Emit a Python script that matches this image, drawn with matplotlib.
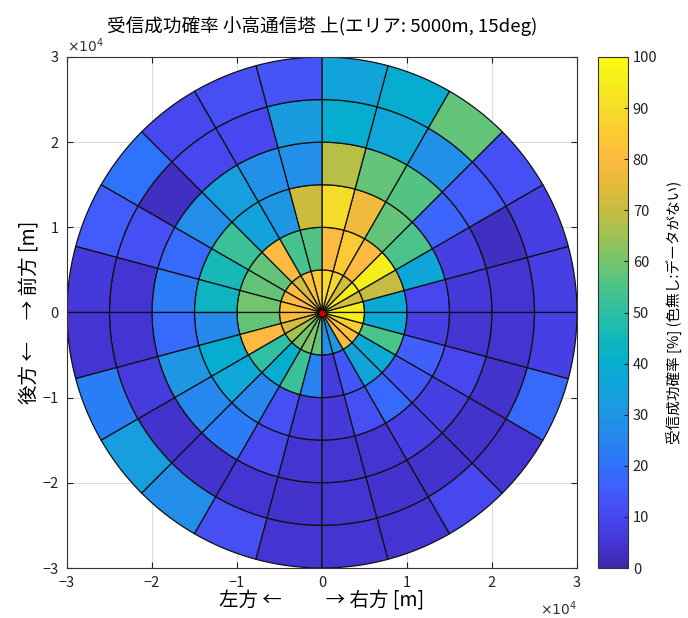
import numpy as np
import matplotlib
matplotlib.use("Agg")
import matplotlib.pyplot as plt
from matplotlib.colors import LinearSegmentedColormap, Normalize
from matplotlib.collections import PolyCollection

plt.rcParams['font.family'] = ['Noto Sans CJK JP', 'DejaVu Sans']
plt.rcParams['axes.unicode_minus'] = True

# ---- data -------------------------------------------------------------
# Reception success rate [%] per cell; each ring lists 24 sectors of 15 deg,
# counter-clockwise starting from the +x axis (right).
sector_step_deg = 15
ring_edges_m = [0, 5000, 10000, 15000, 20000, 25000, 30000]

rate_0_5km = [95, 72, 95, 72, 88, 90, 85, 82, 72, 80, 80, 82,
              80, 72, 66, 60, 62, 58, 28, 30, 80, 82, 86, 96]
rate_5_10km = [38, 70, 95, 80, 85, 80, 56, 54, 80, 58, 58, 60,
               58, 80, 50, 40, 52, 24, 7, 14, 35, 38, 55, 38]
rate_10_15km = [10, 36, 55, 58, 77, 90, 71, 30, 35, 52, 46, 43,
                26, 40, 37, 25, 12, 7, 6, 12, 18, 14, 16, 8]
rate_15_20km = [6, 8, 17, 56, 58, 68, 28, 28, 33, 27, 18, 22,
                18, 30, 25, 22, 10, 5, 5, 5, 8, 8, 10, 5]
rate_20_25km = [5, 3, 15, 28, 37, 40, 32, 10, 10, 3, 12, 5,
                5, 7, 4, 4, 5, 4, 5, 4, 4, 4, 4, 5]
rate_25_30km = [8, 8, 12, 58, 40, 35, 13, 12, 10, 20, 15, 6,
                5, 23, 33, 27, 12, 5, 5, 5, 10, 5, 18, 8]

rings = [rate_0_5km, rate_5_10km, rate_10_15km,
         rate_15_20km, rate_20_25km, rate_25_30km]

title_text = "受信成功確率 小高通信塔 上(エリア: 5000m, 15deg)"
xlabel_text = "左方 ←          → 右方 [m]"
ylabel_text = "後方 ←     → 前方 [m]"
cbar_label = "受信成功確率 [%] (色無し:データがない)"
tick_values = [-3, -2, -1, 0, 1, 2, 3]   # ×10^4 m
cbar_ticks = list(range(0, 101, 10))

# ---- parula-like colormap ---------------------------------------------
parula_pts = [
    (0.00, (0.242, 0.150, 0.660)),
    (0.05, (0.268, 0.212, 0.838)),
    (0.10, (0.278, 0.282, 0.940)),
    (0.15, (0.260, 0.362, 0.990)),
    (0.20, (0.185, 0.450, 0.990)),
    (0.25, (0.150, 0.530, 0.935)),
    (0.30, (0.118, 0.590, 0.890)),
    (0.35, (0.070, 0.640, 0.860)),
    (0.40, (0.025, 0.680, 0.810)),
    (0.45, (0.070, 0.720, 0.730)),
    (0.50, (0.180, 0.748, 0.640)),
    (0.55, (0.290, 0.765, 0.540)),
    (0.60, (0.450, 0.770, 0.430)),
    (0.65, (0.620, 0.760, 0.330)),
    (0.70, (0.770, 0.740, 0.250)),
    (0.75, (0.900, 0.730, 0.230)),
    (0.80, (0.990, 0.730, 0.250)),
    (0.85, (0.990, 0.790, 0.200)),
    (0.90, (0.965, 0.860, 0.160)),
    (0.95, (0.962, 0.930, 0.110)),
    (1.00, (0.977, 0.984, 0.060)),
]
parula = LinearSegmentedColormap.from_list("parula_like", parula_pts, N=256)

# ---- cell polygons ----------------------------------------------------
n_sectors = len(rate_0_5km)
verts, values = [], []
for i, ring in enumerate(rings):
    r0, r1 = ring_edges_m[i], ring_edges_m[i + 1]
    for k in range(n_sectors):
        a = np.deg2rad(np.linspace(k * sector_step_deg,
                                   (k + 1) * sector_step_deg, 16))
        outer = np.column_stack([r1 * np.cos(a), r1 * np.sin(a)])
        if r0 == 0:
            inner = np.array([[0.0, 0.0]])
        else:
            inner = np.column_stack([r0 * np.cos(a[::-1]), r0 * np.sin(a[::-1])])
        verts.append(np.vstack([outer, inner]))
        values.append(ring[k])

# ---- figure -----------------------------------------------------------
fig = plt.figure(figsize=(6.88, 6.18), dpi=100)
ax = fig.add_axes([67 / 688, 1 - 568 / 618, 510 / 688, 511 / 618])
ax.set_axisbelow(True)
ax.grid(True, color="#dcdcdc", linewidth=0.8)

coll = PolyCollection(verts, array=np.array(values, dtype=float),
                      cmap=parula, norm=Normalize(0, 100),
                      edgecolors="#111111", linewidths=0.9, zorder=2)
ax.add_collection(coll)
ax.plot([0], [0], "o", color="#cc0000", markersize=5, zorder=3,
        markeredgecolor="#330000", markeredgewidth=0.6)

lim = 3e4
ax.set_xlim(-lim, lim)
ax.set_ylim(-lim, lim)
ticks_m = [v * 1e4 for v in tick_values]
labels = [("\u2212" + str(abs(v))) if v < 0 else str(v) for v in tick_values]
ax.set_xticks(ticks_m)
ax.set_xticklabels(labels)
ax.set_yticks(ticks_m)
ax.set_yticklabels(labels)
ax.tick_params(direction="in", top=True, right=True, length=4,
               labelsize=10.5, colors="#222222", pad=6)
for s in ax.spines.values():
    s.set_color("#333333")
    s.set_linewidth(0.8)

ax.text(0.0, 1.004, r"$\times10^{4}$", transform=ax.transAxes,
        ha="left", va="bottom", fontsize=10, color="#333333")
ax.text(1.0, -0.062, r"$\times10^{4}$", transform=ax.transAxes,
        ha="right", va="top", fontsize=10, color="#333333")

ax.set_title(title_text, fontsize=13.4, pad=18)
ax.set_xlabel(xlabel_text, fontsize=14, labelpad=0)
ax.set_ylabel(ylabel_text, fontsize=14, labelpad=2)

cax = fig.add_axes([598 / 688, 1 - 568 / 618, 30 / 688, 511 / 618])
cb = fig.colorbar(coll, cax=cax, ticks=cbar_ticks)
cb.ax.tick_params(direction="in", length=3, labelsize=10.5, colors="#222222")
cb.outline.set_edgecolor("#333333")
cb.outline.set_linewidth(0.8)
cb.set_label(cbar_label, fontsize=10.5, labelpad=6)

fig.savefig("out.png", dpi=100)
